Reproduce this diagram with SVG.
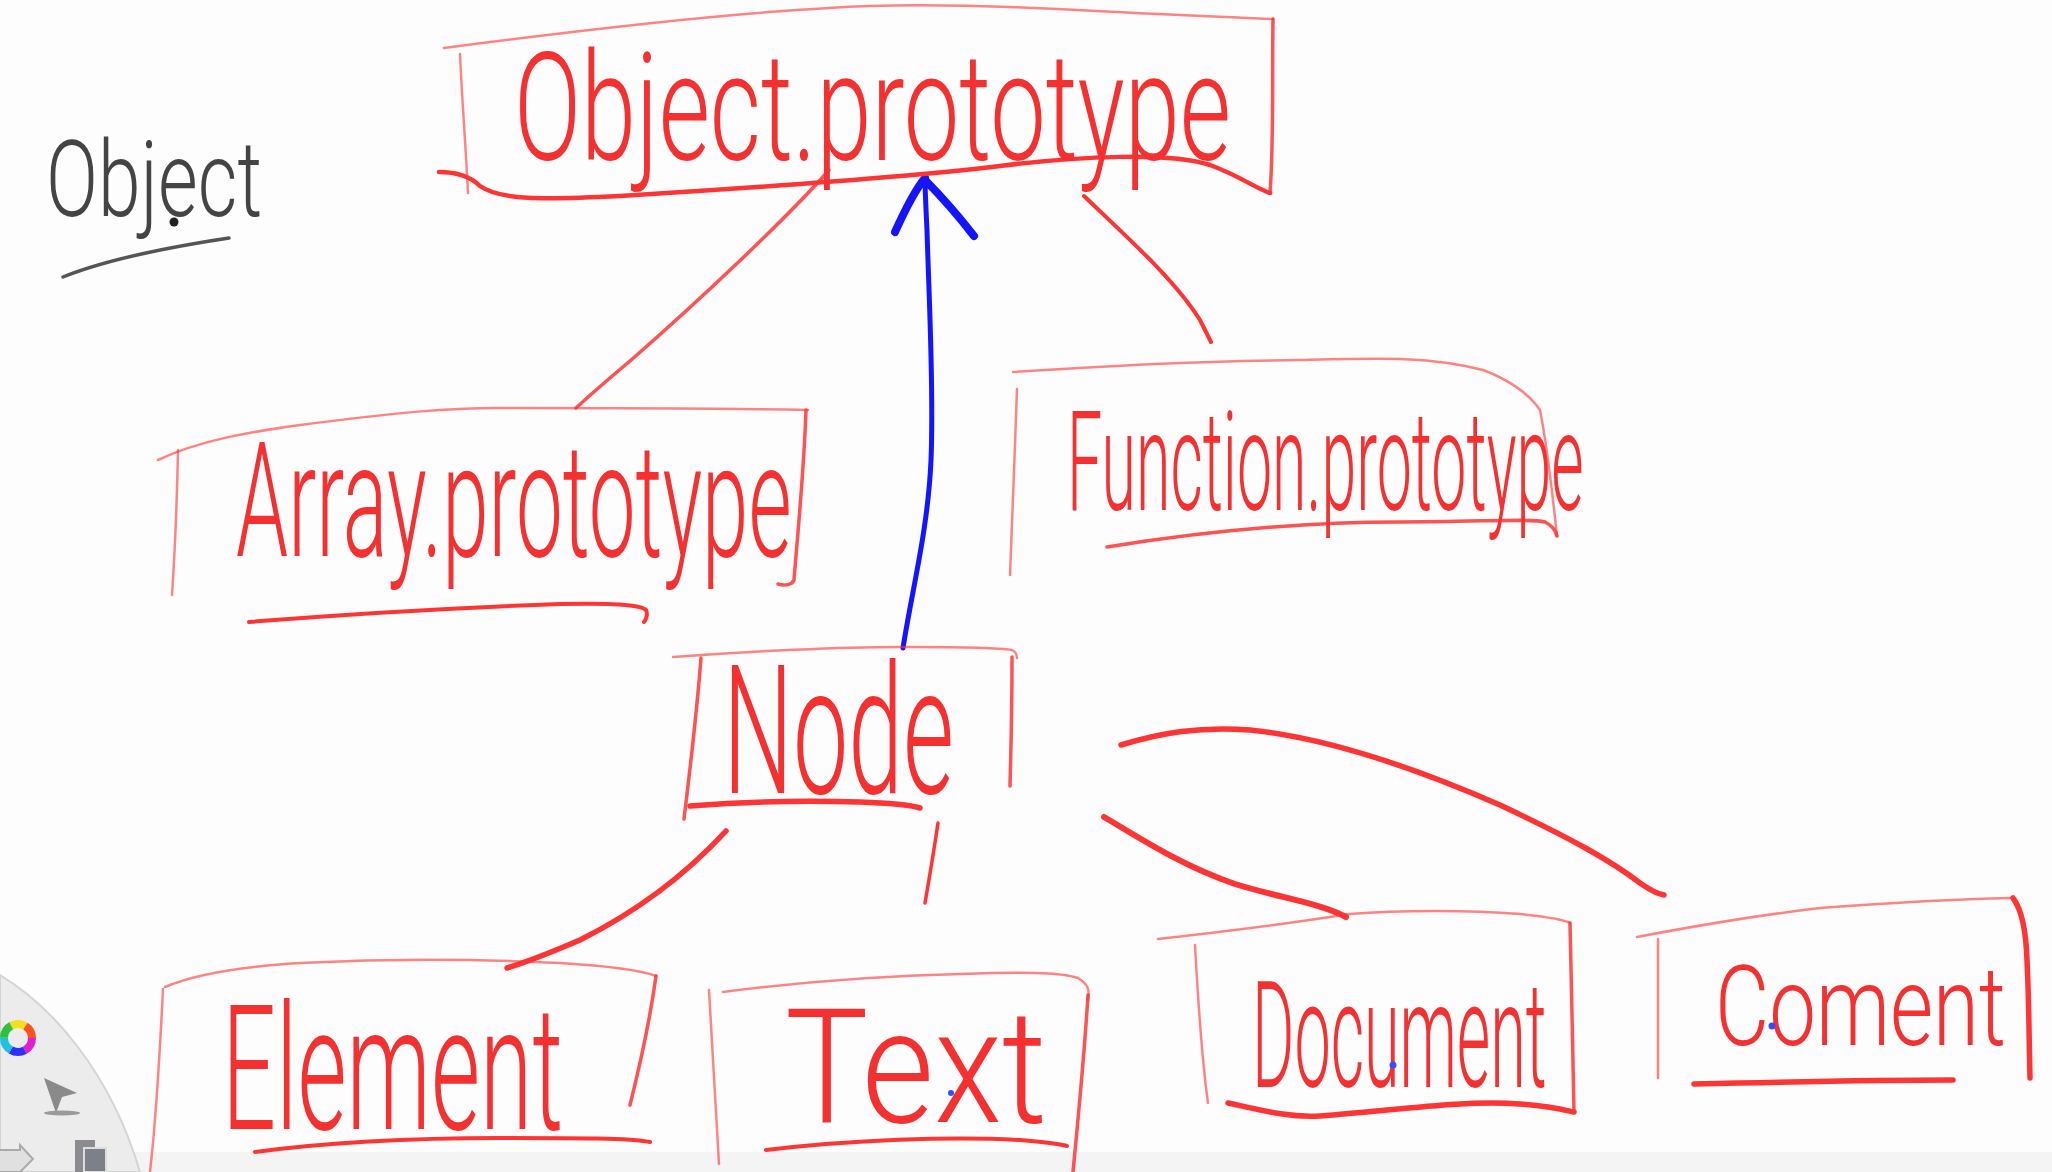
<svg xmlns="http://www.w3.org/2000/svg" width="2052" height="1172" viewBox="0 0 2052 1172">
<style>
.s{fill:none;stroke:#ff3434;stroke-linecap:round;stroke-linejoin:round}
.t1{stroke-width:2.5;opacity:.6}
.t2{stroke-width:3.5;opacity:.85}
.t3{stroke-width:5.5}
.lbl{font-family:Roboto,"Liberation Sans",sans-serif;font-weight:300;fill:#f43030}
.blue{fill:none;stroke:#1414ff;stroke-linecap:round;stroke-linejoin:round}
.dot{fill:#3a4cff}
</style>
<rect width="2052" height="1172" fill="#fdfdfd"/>
<rect y="1152" width="2052" height="20" fill="#f4f4f4"/>

<g id="object-label">
<text class="lbl" transform="translate(46,216) scale(0.718,1)" font-size="105" textLength="301" lengthAdjust="spacingAndGlyphs" style="fill:#444">Object</text>
<circle cx="174" cy="222" r="4.5" fill="#222"/>
<path d="M63,277 C100,262 150,250 229,238" fill="none" stroke="#555" stroke-width="3.5" stroke-linecap="round"/>
</g>

<g id="connectors">
<path class="s t2" d="M829,170 C790,215 700,300 630,361 C605,382 590,395 576,408"/>
<path class="s t3" d="M1084,196 C1130,240 1175,280 1200,320 C1205,330 1208,336 1211,342" style="stroke-width:4"/>
<path class="s t3" d="M726,831 C690,870 640,910 580,940 C545,955 520,964 507,968"/>
<path class="s t3" d="M938,823 C934,850 929,880 925,903" style="stroke-width:3.5"/>
<path class="s t3" d="M1104,817 C1140,838 1180,865 1235,884 C1280,898 1320,903 1346,917" style="stroke-width:6"/>
<path class="s t3" d="M1121,745 C1160,733 1200,726 1250,730 C1330,738 1420,770 1500,805 C1570,838 1610,860 1640,883 C1650,890 1658,894 1664,895"/>
<path class="blue" stroke-width="5" d="M903,648 C912,590 928,530 931,460 C934,390 929,300 927,230 C926,210 925,190 925,178"/>
<path class="blue" stroke-width="8" d="M895,232 C905,210 915,190 925,178 M925,180 C945,200 960,218 974,236"/>
</g>

<g id="node-object-prototype">
<path class="s t1" d="M444,48 C520,38 700,15 829,8 C900,3 1000,6 1078,10 C1150,14 1230,17 1273,19"/>
<path class="s t2" d="M1273,19 C1272,80 1274,140 1270,193"/>
<path class="s t1" d="M460,54 C462,100 466,150 468,193"/>
<path class="s t3" d="M439,172 C455,172 470,176 480,186 C500,200 540,200 620,196 C750,188 900,178 1000,166 C1080,156 1170,152 1210,165 C1240,176 1255,188 1270,193" style="stroke-width:4.5"/>
<text class="lbl" transform="translate(514,160) scale(0.647,1)" font-size="150" textLength="1108" lengthAdjust="spacingAndGlyphs">Object.prototype</text>
</g>

<g id="node-array-prototype">
<path class="s t1" d="M158,460 C200,440 250,432 300,425 C400,412 450,408 497,408 C600,408 700,408 808,410"/>
<path class="s t2" d="M806,410 C804,470 798,530 794,580 C792,585 785,586 778,584"/>
<path class="s t1" d="M178,450 C177,500 175,550 172,595"/>
<path class="s t3" d="M249,622 C350,614 450,608 560,604 C610,603 640,604 646,610 C648,614 646,620 644,622" style="stroke-width:4"/>
<text class="lbl" transform="translate(236,556) scale(0.506,1)" font-size="160" textLength="1098" lengthAdjust="spacingAndGlyphs">Array.prototype</text>
</g>

<g id="node-function-prototype">
<path class="s t1" d="M1013,372 C1100,366 1200,361 1300,360 C1380,358 1430,356 1483,370 C1510,380 1530,395 1540,410 C1548,450 1553,500 1557,536"/>
<path class="s t1" d="M1017,389 C1015,450 1012,520 1010,575"/>
<path class="s t2" d="M1107,547 C1200,532 1300,522 1400,522 C1480,522 1530,518 1545,522 C1553,526 1556,532 1557,536"/>
<text class="lbl" transform="translate(1067,510) scale(0.44,1)" font-size="140" textLength="1174" lengthAdjust="spacingAndGlyphs">Function.prototype</text>
</g>

<g id="node-node">
<path class="s t1" d="M673,657 C740,652 850,646 912,647 C960,647 1000,648 1012,650 C1016,652 1017,655 1017,658"/>
<path class="s t2" d="M1012,657 C1012,700 1011,750 1010,786"/>
<path class="s t2" d="M701,658 C697,710 690,770 684,819"/>
<path class="s t3" d="M690,806 C740,802 800,800 860,802 C890,803 910,805 920,808"/>
<text class="lbl" transform="translate(723,793) scale(0.54,1)" font-size="180" textLength="428" lengthAdjust="spacingAndGlyphs">Node</text>
</g>

<g id="node-element">
<path class="s t1" d="M165,987 C200,972 250,966 300,963 C400,958 500,960 560,963 C610,966 640,970 656,976"/>
<path class="s t2" d="M656,976 C650,1020 640,1065 630,1105"/>
<path class="s t1" d="M163,989 C160,1050 156,1120 150,1172"/>
<path class="s t3" d="M255,1152 C330,1142 420,1138 500,1138 C580,1138 630,1138 650,1142" style="stroke-width:4"/>
<text class="lbl" transform="translate(222,1129) scale(0.537,1)" font-size="175" textLength="635" lengthAdjust="spacingAndGlyphs">Element</text>
</g>

<g id="node-text">
<path class="s t1" d="M723,992 C800,982 880,976 960,974 C1020,972 1060,972 1078,978 C1088,984 1090,990 1088,1000"/>
<path class="s t2" d="M1088,995 C1084,1060 1078,1120 1073,1172"/>
<path class="s t1" d="M709,990 C712,1050 716,1110 719,1164"/>
<path class="s t3" d="M766,1150 C850,1140 950,1136 1020,1140 C1045,1142 1060,1144 1067,1146" style="stroke-width:4"/>
<text class="lbl" transform="translate(785,1122) scale(0.834,1)" font-size="160" textLength="314" lengthAdjust="spacingAndGlyphs">Text</text>
<circle class="dot" cx="951" cy="1093" r="3"/>
</g>

<g id="node-document">
<path class="s t1" d="M1158,939 C1220,932 1300,922 1349,914 C1400,910 1470,910 1520,914 C1550,917 1565,920 1570,923"/>
<path class="s t2" d="M1570,923 C1571,980 1573,1050 1574,1112"/>
<path class="s t1" d="M1195,945 C1198,1000 1202,1060 1208,1103"/>
<path class="s t3" d="M1228,1103 C1260,1110 1290,1118 1320,1116 C1400,1110 1460,1100 1520,1104 C1550,1106 1565,1110 1574,1112"/>
<text class="lbl" transform="translate(1252,1087) scale(0.434,1)" font-size="148" textLength="679" lengthAdjust="spacingAndGlyphs">Document</text>
<circle class="dot" cx="1393" cy="1065" r="3.5"/>
</g>

<g id="node-coment">
<path class="s t1" d="M1637,937 C1700,925 1760,915 1820,908 C1900,902 1960,899 2010,898"/>
<path class="s t3" d="M2013,898 C2022,910 2026,930 2027,960 C2029,1000 2029,1040 2030,1078"/>
<path class="s t1" d="M1658,939 C1658,990 1658,1040 1658,1078"/>
<path class="s t3" d="M1694,1084 C1780,1082 1880,1080 1953,1080"/>
<text class="lbl" transform="translate(1715,1045) scale(0.74,1)" font-size="112" textLength="393" lengthAdjust="spacingAndGlyphs">Coment</text>
<circle class="dot" cx="1772" cy="1026" r="3.5"/>
</g>

<g id="toolbar">
<path d="M0,975 C50,1005 110,1070 140,1172 L0,1172 Z" fill="#ececec" stroke="#d4d4d4" stroke-width="2"/>
<g fill="none" stroke-width="8">
<circle cx="18" cy="1038" r="14" stroke="#e020d0" stroke-dasharray="14.7 88"/>
<circle cx="18" cy="1038" r="14" stroke="#3030ff" stroke-dasharray="14.7 88" stroke-dashoffset="-14.7"/>
<circle cx="18" cy="1038" r="14" stroke="#20c0e0" stroke-dasharray="14.7 88" stroke-dashoffset="-29.3"/>
<circle cx="18" cy="1038" r="14" stroke="#30c040" stroke-dasharray="14.7 88" stroke-dashoffset="-44"/>
<circle cx="18" cy="1038" r="14" stroke="#f0e020" stroke-dasharray="14.7 88" stroke-dashoffset="-58.6"/>
<circle cx="18" cy="1038" r="14" stroke="#ff5020" stroke-dasharray="14.7 88" stroke-dashoffset="-73.3"/>
</g>
<polygon points="44,1078 77,1093 62,1097 56,1113" fill="#8a8a8a"/>
<ellipse cx="62" cy="1113" rx="18" ry="2.5" fill="#9a9a9a"/>
<path d="M0,1150 L20,1150 L20,1145 L33,1159 L20,1172 L0,1172" fill="#e0e0e0" stroke="#aaa" stroke-width="2"/>
<rect x="75" y="1140" width="20" height="32" fill="#8c8c90"/>
<rect x="84" y="1148" width="22" height="24" fill="#7c8088" stroke="#ddd" stroke-width="2"/>
</g>
</svg>
